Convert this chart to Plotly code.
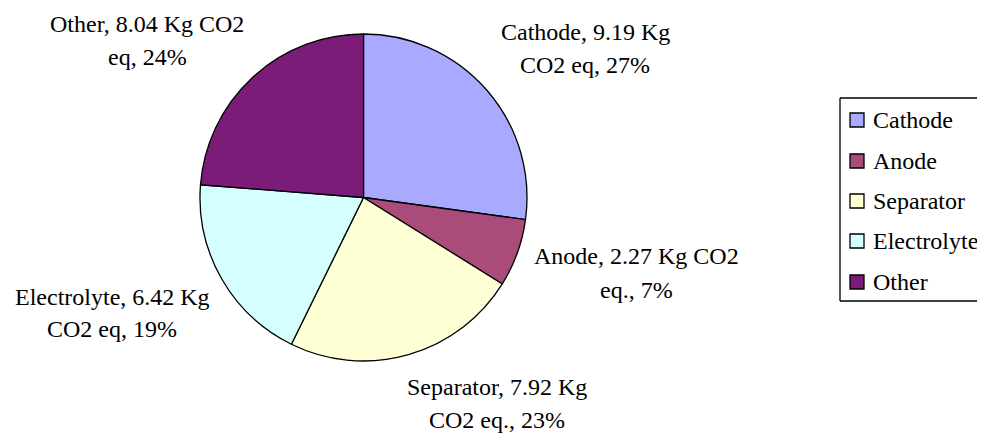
import plotly.graph_objects as go

categories = ["Cathode", "Anode", "Separator", "Electrolyte", "Other"]
values = [9.19, 2.27, 7.92, 6.42, 8.04]
label_lines = [
    ("Cathode, 9.19 Kg", "CO2 eq, 27%"),
    ("Anode, 2.27 Kg CO2", "eq., 7%"),
    ("Separator, 7.92 Kg", "CO2 eq., 23%"),
    ("Electrolyte, 6.42 Kg", "CO2 eq, 19%"),
    ("Other, 8.04 Kg CO2", "eq, 24%"),
]
colors = ["#A9AAFF", "#A94C7B", "#FFFFD5", "#D5FFFF", "#7C1C79"]

W, H = 985, 433
OFF = 8  # page body margin offset
FONT = "Liberation Serif"
FS = 24


def px(x):
    return (x - OFF) / W


def py(y):
    return 1 - (y - OFF) / H


fig = go.Figure()
fig.add_trace(go.Pie(
    labels=categories,
    values=values,
    sort=False,
    direction="clockwise",
    rotation=0,
    textinfo="none",
    hoverinfo="label+value+percent",
    marker=dict(colors=colors, line=dict(color="black", width=1.3)),
    domain=dict(x=[px(200), px(527)], y=[py(361), py(34)]),
    showlegend=False,
))

# label positions (pixel centres of the two lines)
label_pos = [(585, 32, 65), (636, 256, 290), (497, 387, 420), (112, 297, 329), (147, 24, 57)]
for (l1, l2), (cx, y1, y2) in zip(label_lines, label_pos):
    for txt, yy in ((l1, y1), (l2, y2)):
        fig.add_annotation(
            x=px(cx), y=py(yy), xref="paper", yref="paper",
            text=txt, showarrow=False, xanchor="center", yanchor="middle",
            font=dict(family=FONT, size=FS, color="black"),
        )

# manual legend frame (right side runs off the page)
lx0, ly0, ly1 = 840, 98, 301
frame = dict(color="black", width=1.3)
fig.add_shape(type="line", xref="paper", yref="paper",
              x0=px(lx0), x1=px(lx0), y0=py(ly1), y1=py(ly0), line=frame)
fig.add_shape(type="line", xref="paper", yref="paper",
              x0=px(lx0), x1=1.1, y0=py(ly0), y1=py(ly0), line=frame)
fig.add_shape(type="line", xref="paper", yref="paper",
              x0=px(lx0), x1=1.1, y0=py(ly1), y1=py(ly1), line=frame)
item_y = [120, 161, 201, 241, 282]
for cat, col, iy in zip(categories, colors, item_y):
    fig.add_shape(type="rect", xref="paper", yref="paper",
                  x0=px(850), x1=px(864), y0=py(iy + 7), y1=py(iy - 7),
                  line=dict(color="black", width=1.3), fillcolor=col)
    fig.add_annotation(x=px(871), y=py(iy), xref="paper", yref="paper",
                       text=cat, showarrow=False, xanchor="left", yanchor="middle",
                       font=dict(family=FONT, size=FS, color="black"))

fig.update_layout(
    width=W, height=H,
    margin=dict(l=0, r=0, t=0, b=0),
    paper_bgcolor="white", plot_bgcolor="white",
)
fig.write_html("out.html")
